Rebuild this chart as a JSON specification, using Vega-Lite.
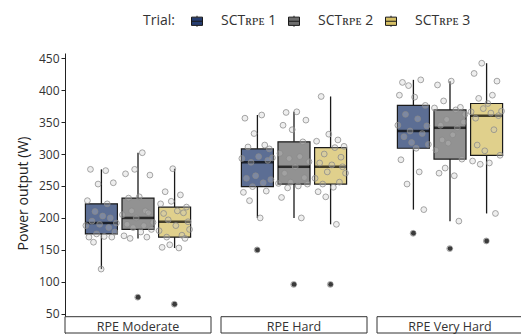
{
"$schema":"https://vega.github.io/schema/vega-lite/v6.json",
"padding":{"left":16,"top":14,"right":0,"bottom":0},
"config":{"font":"Open Sans","view":{"stroke":null}},
"data":{"values":[
{"c":"RPE Moderate","t":1,"p":1,"v":188},{"c":"RPE Moderate","t":1,"p":2,"v":227},{"c":"RPE Moderate","t":1,"p":3,"v":170},{"c":"RPE Moderate","t":1,"p":4,"v":276},{"c":"RPE Moderate","t":1,"p":5,"v":195},{"c":"RPE Moderate","t":1,"p":6,"v":162},{"c":"RPE Moderate","t":1,"p":7,"v":210},{"c":"RPE Moderate","t":1,"p":8,"v":175},{"c":"RPE Moderate","t":1,"p":9,"v":253},{"c":"RPE Moderate","t":1,"p":10,"v":190},{"c":"RPE Moderate","t":1,"p":11,"v":120},{"c":"RPE Moderate","t":1,"p":12,"v":203},{"c":"RPE Moderate","t":1,"p":13,"v":171},{"c":"RPE Moderate","t":1,"p":14,"v":274},{"c":"RPE Moderate","t":1,"p":15,"v":222},{"c":"RPE Moderate","t":1,"p":16,"v":185},{"c":"RPE Moderate","t":1,"p":17,"v":200},{"c":"RPE Moderate","t":1,"p":18,"v":170},{"c":"RPE Moderate","t":1,"p":19,"v":255},{"c":"RPE Moderate","t":1,"p":20,"v":178},{"c":"RPE Moderate","t":1,"p":21,"v":192},
{"c":"RPE Moderate","t":2,"p":1,"v":205},{"c":"RPE Moderate","t":2,"p":2,"v":172},{"c":"RPE Moderate","t":2,"p":3,"v":269},{"c":"RPE Moderate","t":2,"p":4,"v":190},{"c":"RPE Moderate","t":2,"p":5,"v":231},{"c":"RPE Moderate","t":2,"p":6,"v":168},{"c":"RPE Moderate","t":2,"p":7,"v":211},{"c":"RPE Moderate","t":2,"p":8,"v":185},{"c":"RPE Moderate","t":2,"p":9,"v":276},{"c":"RPE Moderate","t":2,"p":10,"v":200},{"c":"RPE Moderate","t":2,"p":11,"v":76},{"c":"RPE Moderate","t":2,"p":12,"v":233},{"c":"RPE Moderate","t":2,"p":13,"v":178},{"c":"RPE Moderate","t":2,"p":14,"v":302},{"c":"RPE Moderate","t":2,"p":15,"v":188},{"c":"RPE Moderate","t":2,"p":16,"v":211},{"c":"RPE Moderate","t":2,"p":17,"v":170},{"c":"RPE Moderate","t":2,"p":18,"v":208},{"c":"RPE Moderate","t":2,"p":19,"v":267},{"c":"RPE Moderate","t":2,"p":20,"v":182},{"c":"RPE Moderate","t":2,"p":21,"v":193},
{"c":"RPE Moderate","t":3,"p":1,"v":180},{"c":"RPE Moderate","t":3,"p":2,"v":222},{"c":"RPE Moderate","t":3,"p":3,"v":154},{"c":"RPE Moderate","t":3,"p":4,"v":207},{"c":"RPE Moderate","t":3,"p":5,"v":241},{"c":"RPE Moderate","t":3,"p":6,"v":170},{"c":"RPE Moderate","t":3,"p":7,"v":197},{"c":"RPE Moderate","t":3,"p":8,"v":158},{"c":"RPE Moderate","t":3,"p":9,"v":226},{"c":"RPE Moderate","t":3,"p":10,"v":277},{"c":"RPE Moderate","t":3,"p":11,"v":65},{"c":"RPE Moderate","t":3,"p":12,"v":188},{"c":"RPE Moderate","t":3,"p":13,"v":211},{"c":"RPE Moderate","t":3,"p":14,"v":153},{"c":"RPE Moderate","t":3,"p":15,"v":236},{"c":"RPE Moderate","t":3,"p":16,"v":173},{"c":"RPE Moderate","t":3,"p":17,"v":208},{"c":"RPE Moderate","t":3,"p":18,"v":168},{"c":"RPE Moderate","t":3,"p":19,"v":217},{"c":"RPE Moderate","t":3,"p":20,"v":194},{"c":"RPE Moderate","t":3,"p":21,"v":182},
{"c":"RPE Hard","t":1,"p":1,"v":293},{"c":"RPE Hard","t":1,"p":2,"v":240},{"c":"RPE Hard","t":1,"p":3,"v":356},{"c":"RPE Hard","t":1,"p":4,"v":262},{"c":"RPE Hard","t":1,"p":5,"v":311},{"c":"RPE Hard","t":1,"p":6,"v":227},{"c":"RPE Hard","t":1,"p":7,"v":287},{"c":"RPE Hard","t":1,"p":8,"v":249},{"c":"RPE Hard","t":1,"p":9,"v":332},{"c":"RPE Hard","t":1,"p":10,"v":266},{"c":"RPE Hard","t":1,"p":11,"v":150},{"c":"RPE Hard","t":1,"p":12,"v":296},{"c":"RPE Hard","t":1,"p":13,"v":200},{"c":"RPE Hard","t":1,"p":14,"v":361},{"c":"RPE Hard","t":1,"p":15,"v":255},{"c":"RPE Hard","t":1,"p":16,"v":314},{"c":"RPE Hard","t":1,"p":17,"v":242},{"c":"RPE Hard","t":1,"p":18,"v":290},{"c":"RPE Hard","t":1,"p":19,"v":308},{"c":"RPE Hard","t":1,"p":20,"v":260},{"c":"RPE Hard","t":1,"p":21,"v":294},
{"c":"RPE Hard","t":2,"p":1,"v":254},{"c":"RPE Hard","t":2,"p":2,"v":301},{"c":"RPE Hard","t":2,"p":3,"v":232},{"c":"RPE Hard","t":2,"p":4,"v":345},{"c":"RPE Hard","t":2,"p":5,"v":270},{"c":"RPE Hard","t":2,"p":6,"v":365},{"c":"RPE Hard","t":2,"p":7,"v":247},{"c":"RPE Hard","t":2,"p":8,"v":293},{"c":"RPE Hard","t":2,"p":9,"v":256},{"c":"RPE Hard","t":2,"p":10,"v":338},{"c":"RPE Hard","t":2,"p":11,"v":96},{"c":"RPE Hard","t":2,"p":12,"v":280},{"c":"RPE Hard","t":2,"p":13,"v":366},{"c":"RPE Hard","t":2,"p":14,"v":250},{"c":"RPE Hard","t":2,"p":15,"v":296},{"c":"RPE Hard","t":2,"p":16,"v":200},{"c":"RPE Hard","t":2,"p":17,"v":319},{"c":"RPE Hard","t":2,"p":18,"v":263},{"c":"RPE Hard","t":2,"p":19,"v":353},{"c":"RPE Hard","t":2,"p":20,"v":253},{"c":"RPE Hard","t":2,"p":21,"v":288},
{"c":"RPE Hard","t":3,"p":1,"v":262},{"c":"RPE Hard","t":3,"p":2,"v":320},{"c":"RPE Hard","t":3,"p":3,"v":241},{"c":"RPE Hard","t":3,"p":4,"v":286},{"c":"RPE Hard","t":3,"p":5,"v":390},{"c":"RPE Hard","t":3,"p":6,"v":253},{"c":"RPE Hard","t":3,"p":7,"v":300},{"c":"RPE Hard","t":3,"p":8,"v":233},{"c":"RPE Hard","t":3,"p":9,"v":272},{"c":"RPE Hard","t":3,"p":10,"v":331},{"c":"RPE Hard","t":3,"p":11,"v":96},{"c":"RPE Hard","t":3,"p":12,"v":283},{"c":"RPE Hard","t":3,"p":13,"v":248},{"c":"RPE Hard","t":3,"p":14,"v":310},{"c":"RPE Hard","t":3,"p":15,"v":190},{"c":"RPE Hard","t":3,"p":16,"v":322},{"c":"RPE Hard","t":3,"p":17,"v":256},{"c":"RPE Hard","t":3,"p":18,"v":295},{"c":"RPE Hard","t":3,"p":19,"v":280},{"c":"RPE Hard","t":3,"p":20,"v":312},{"c":"RPE Hard","t":3,"p":21,"v":270},
{"c":"RPE Very Hard","t":1,"p":1,"v":345},{"c":"RPE Very Hard","t":1,"p":2,"v":392},{"c":"RPE Very Hard","t":1,"p":3,"v":291},{"c":"RPE Very Hard","t":1,"p":4,"v":412},{"c":"RPE Very Hard","t":1,"p":5,"v":327},{"c":"RPE Very Hard","t":1,"p":6,"v":362},{"c":"RPE Very Hard","t":1,"p":7,"v":253},{"c":"RPE Very Hard","t":1,"p":8,"v":407},{"c":"RPE Very Hard","t":1,"p":9,"v":336},{"c":"RPE Very Hard","t":1,"p":10,"v":318},{"c":"RPE Very Hard","t":1,"p":11,"v":176},{"c":"RPE Very Hard","t":1,"p":12,"v":389},{"c":"RPE Very Hard","t":1,"p":13,"v":309},{"c":"RPE Very Hard","t":1,"p":14,"v":355},{"c":"RPE Very Hard","t":1,"p":15,"v":272},{"c":"RPE Very Hard","t":1,"p":16,"v":416},{"c":"RPE Very Hard","t":1,"p":17,"v":332},{"c":"RPE Very Hard","t":1,"p":18,"v":213},{"c":"RPE Very Hard","t":1,"p":19,"v":376},{"c":"RPE Very Hard","t":1,"p":20,"v":344},{"c":"RPE Very Hard","t":1,"p":21,"v":315},
{"c":"RPE Very Hard","t":2,"p":1,"v":372},{"c":"RPE Very Hard","t":2,"p":2,"v":306},{"c":"RPE Very Hard","t":2,"p":3,"v":408},{"c":"RPE Very Hard","t":2,"p":4,"v":270},{"c":"RPE Very Hard","t":2,"p":5,"v":345},{"c":"RPE Very Hard","t":2,"p":6,"v":322},{"c":"RPE Very Hard","t":2,"p":7,"v":383},{"c":"RPE Very Hard","t":2,"p":8,"v":278},{"c":"RPE Very Hard","t":2,"p":9,"v":354},{"c":"RPE Very Hard","t":2,"p":10,"v":317},{"c":"RPE Very Hard","t":2,"p":11,"v":152},{"c":"RPE Very Hard","t":2,"p":12,"v":414},{"c":"RPE Very Hard","t":2,"p":13,"v":330},{"c":"RPE Very Hard","t":2,"p":14,"v":266},{"c":"RPE Very Hard","t":2,"p":15,"v":369},{"c":"RPE Very Hard","t":2,"p":16,"v":341},{"c":"RPE Very Hard","t":2,"p":17,"v":195},{"c":"RPE Very Hard","t":2,"p":18,"v":373},{"c":"RPE Very Hard","t":2,"p":19,"v":292},{"c":"RPE Very Hard","t":2,"p":20,"v":350},{"c":"RPE Very Hard","t":2,"p":21,"v":362},
{"c":"RPE Very Hard","t":3,"p":1,"v":366},{"c":"RPE Very Hard","t":3,"p":2,"v":289},{"c":"RPE Very Hard","t":3,"p":3,"v":426},{"c":"RPE Very Hard","t":3,"p":4,"v":356},{"c":"RPE Very Hard","t":3,"p":5,"v":314},{"c":"RPE Very Hard","t":3,"p":6,"v":387},{"c":"RPE Very Hard","t":3,"p":7,"v":284},{"c":"RPE Very Hard","t":3,"p":8,"v":442},{"c":"RPE Very Hard","t":3,"p":9,"v":371},{"c":"RPE Very Hard","t":3,"p":10,"v":305},{"c":"RPE Very Hard","t":3,"p":11,"v":164},{"c":"RPE Very Hard","t":3,"p":12,"v":379},{"c":"RPE Very Hard","t":3,"p":13,"v":286},{"c":"RPE Very Hard","t":3,"p":14,"v":364},{"c":"RPE Very Hard","t":3,"p":15,"v":392},{"c":"RPE Very Hard","t":3,"p":16,"v":338},{"c":"RPE Very Hard","t":3,"p":17,"v":207},{"c":"RPE Very Hard","t":3,"p":18,"v":414},{"c":"RPE Very Hard","t":3,"p":19,"v":360},{"c":"RPE Very Hard","t":3,"p":20,"v":298},{"c":"RPE Very Hard","t":3,"p":21,"v":367}
]},
"spacing":8,
"resolve":{"scale":{"color":"shared","y":"shared","x":"independent","xOffset":"independent"},"legend":{"color":"shared"}},
"hconcat":[
{"width":146,"height":280,
 "layer":[
 {"data":{"values":[{"c":"RPE Moderate"}]},"mark":{"type":"rect","fill":"white","stroke":"#333","strokeWidth":1},
  "encoding":{"y":{"datum":20,"type":"quantitative","scale":{"domain":[20,458],"nice":false,"zero":false},"axis":{"values":[50,100,150,200,250,300,350,400,450],"title":"Power output (W)","grid":false,"labelOverlap":false,"domainColor":"#222","tickColor":"#222","tickSize":4,"labelFontSize":12,"labelColor":"#333","titleFontSize":14,"titleFontWeight":"normal","titleColor":"#222","labelPadding":2,"titlePadding":8}},"y2":{"datum":45.5}}},
 {"data":{"values":[{"c":"RPE Moderate"}]},"mark":{"type":"text","fontSize":12.5,"color":"#333","baseline":"middle","align":"center"},
  "encoding":{"text":{"field":"c"},"y":{"datum":29,"type":"quantitative","axis":{"values":[50,100,150,200,250,300,350,400,450],"title":"Power output (W)","grid":false,"labelOverlap":false,"domainColor":"#222","tickColor":"#222","tickSize":4,"labelFontSize":12,"labelColor":"#333","titleFontSize":14,"titleFontWeight":"normal","titleColor":"#222","labelPadding":2,"titlePadding":8}}}},
 {"transform":[{"filter":{"field":"c","equal":"RPE Moderate"}}],
  "mark":{"type":"boxplot","size":32,"extent":1.5,"outliers":false,"box":{"fillOpacity":0.75,"stroke":"#1a1a1a","strokeWidth":1.2},"median":{"color":"#000","thickness":2.5},"rule":{"color":"#1a1a1a","strokeWidth":1.3}},
  "encoding":{"x":{"field":"t","type":"nominal","axis":null,"scale":{"paddingInner":0.11,"paddingOuter":0.55}},
   "y":{"field":"v","type":"quantitative","axis":{"values":[50,100,150,200,250,300,350,400,450],"title":"Power output (W)","grid":false,"labelOverlap":false,"domainColor":"#222","tickColor":"#222","tickSize":4,"labelFontSize":12,"labelColor":"#333","titleFontSize":14,"titleFontWeight":"normal","titleColor":"#222","labelPadding":2,"titlePadding":8}},
   "color":{"field":"t","type":"nominal","scale":{"range":["#263d70","#6d6d6d","#d6c066"]},
    "legend":{"title":"Trial:","orient":"none","legendX":78,"legendY":-39,"direction":"horizontal","titleOrient":"left","titleFontSize":14,"titleFontWeight":"normal","titleColor":"#333","labelFontSize":14,"labelColor":"#333","labelExpr":"'SCTʀᴘᴇ ' + datum.label","symbolType":"M-1,-0.75H1V0.75H-1Z M-1,0H1 M0,-0.75V-1 M0,0.75V1","symbolSize":121,"symbolStrokeColor":"#222","symbolStrokeWidth":1,"symbolOpacity":1,"columnPadding":9,"labelOffset":17,"titlePadding":15}}}},
 {"transform":[{"filter":{"field":"c","equal":"RPE Moderate"}}],
  "mark":{"type":"point","filled":true,"size":34,"fill":"#c8c8c8","fillOpacity":0.3,"stroke":"#8a8a8a","strokeOpacity":0.75,"strokeWidth":1},
  "encoding":{"x":{"field":"t","type":"nominal","axis":null},"xOffset":{"field":"p","type":"nominal","scale":{"range":[0,32]}},"y":{"field":"v","type":"quantitative","axis":{"values":[50,100,150,200,250,300,350,400,450],"title":"Power output (W)","grid":false,"labelOverlap":false,"domainColor":"#222","tickColor":"#222","tickSize":4,"labelFontSize":12,"labelColor":"#333","titleFontSize":14,"titleFontWeight":"normal","titleColor":"#222","labelPadding":2,"titlePadding":8}}}},
 {"transform":[{"filter":{"field":"c","equal":"RPE Moderate"}}],
  "mark":{"type":"boxplot","size":32,"extent":1.5,"box":false,"median":false,"rule":false,"outliers":{"filled":true,"color":"#3b3b3b","size":24,"opacity":1}},
  "encoding":{"x":{"field":"t","type":"nominal","axis":null},"y":{"field":"v","type":"quantitative","axis":{"values":[50,100,150,200,250,300,350,400,450],"title":"Power output (W)","grid":false,"labelOverlap":false,"domainColor":"#222","tickColor":"#222","tickSize":4,"labelFontSize":12,"labelColor":"#333","titleFontSize":14,"titleFontWeight":"normal","titleColor":"#222","labelPadding":2,"titlePadding":8}}}}
 ]},
{"width":146,"height":280,
 "layer":[
 {"data":{"values":[{"c":"RPE Hard"}]},"mark":{"type":"rect","fill":"white","stroke":"#333","strokeWidth":1},
  "encoding":{"y":{"datum":20,"type":"quantitative","scale":{"domain":[20,458],"nice":false,"zero":false},"axis":null},"y2":{"datum":45.5}}},
 {"data":{"values":[{"c":"RPE Hard"}]},"mark":{"type":"text","fontSize":12.5,"color":"#333","baseline":"middle","align":"center"},
  "encoding":{"text":{"field":"c"},"y":{"datum":29,"type":"quantitative","axis":null}}},
 {"transform":[{"filter":{"field":"c","equal":"RPE Hard"}}],
  "mark":{"type":"boxplot","size":32,"extent":1.5,"outliers":false,"box":{"fillOpacity":0.75,"stroke":"#1a1a1a","strokeWidth":1.2},"median":{"color":"#000","thickness":2.5},"rule":{"color":"#1a1a1a","strokeWidth":1.3}},
  "encoding":{"x":{"field":"t","type":"nominal","axis":null,"scale":{"paddingInner":0.11,"paddingOuter":0.55}},
   "y":{"field":"v","type":"quantitative","axis":null},
   "color":{"field":"t","type":"nominal","scale":{"range":["#263d70","#6d6d6d","#d6c066"]}}}},
 {"transform":[{"filter":{"field":"c","equal":"RPE Hard"}}],
  "mark":{"type":"point","filled":true,"size":34,"fill":"#c8c8c8","fillOpacity":0.3,"stroke":"#8a8a8a","strokeOpacity":0.75,"strokeWidth":1},
  "encoding":{"x":{"field":"t","type":"nominal","axis":null},"xOffset":{"field":"p","type":"nominal","scale":{"range":[0,32]}},"y":{"field":"v","type":"quantitative","axis":null}}},
 {"transform":[{"filter":{"field":"c","equal":"RPE Hard"}}],
  "mark":{"type":"boxplot","size":32,"extent":1.5,"box":false,"median":false,"rule":false,"outliers":{"filled":true,"color":"#3b3b3b","size":24,"opacity":1}},
  "encoding":{"x":{"field":"t","type":"nominal","axis":null},"y":{"field":"v","type":"quantitative","axis":null}}}
 ]},
{"width":146,"height":280,
 "layer":[
 {"data":{"values":[{"c":"RPE Very Hard"}]},"mark":{"type":"rect","fill":"white","stroke":"#333","strokeWidth":1},
  "encoding":{"y":{"datum":20,"type":"quantitative","scale":{"domain":[20,458],"nice":false,"zero":false},"axis":null},"y2":{"datum":45.5}}},
 {"data":{"values":[{"c":"RPE Very Hard"}]},"mark":{"type":"text","fontSize":12.5,"color":"#333","baseline":"middle","align":"center"},
  "encoding":{"text":{"field":"c"},"y":{"datum":29,"type":"quantitative","axis":null}}},
 {"transform":[{"filter":{"field":"c","equal":"RPE Very Hard"}}],
  "mark":{"type":"boxplot","size":32,"extent":1.5,"outliers":false,"box":{"fillOpacity":0.75,"stroke":"#1a1a1a","strokeWidth":1.2},"median":{"color":"#000","thickness":2.5},"rule":{"color":"#1a1a1a","strokeWidth":1.3}},
  "encoding":{"x":{"field":"t","type":"nominal","axis":null,"scale":{"paddingInner":0.11,"paddingOuter":0.55}},
   "y":{"field":"v","type":"quantitative","axis":null},
   "color":{"field":"t","type":"nominal","scale":{"range":["#263d70","#6d6d6d","#d6c066"]}}}},
 {"transform":[{"filter":{"field":"c","equal":"RPE Very Hard"}}],
  "mark":{"type":"point","filled":true,"size":34,"fill":"#c8c8c8","fillOpacity":0.3,"stroke":"#8a8a8a","strokeOpacity":0.75,"strokeWidth":1},
  "encoding":{"x":{"field":"t","type":"nominal","axis":null},"xOffset":{"field":"p","type":"nominal","scale":{"range":[0,32]}},"y":{"field":"v","type":"quantitative","axis":null}}},
 {"transform":[{"filter":{"field":"c","equal":"RPE Very Hard"}}],
  "mark":{"type":"boxplot","size":32,"extent":1.5,"box":false,"median":false,"rule":false,"outliers":{"filled":true,"color":"#3b3b3b","size":24,"opacity":1}},
  "encoding":{"x":{"field":"t","type":"nominal","axis":null},"y":{"field":"v","type":"quantitative","axis":null}}}
 ]}
]
}
